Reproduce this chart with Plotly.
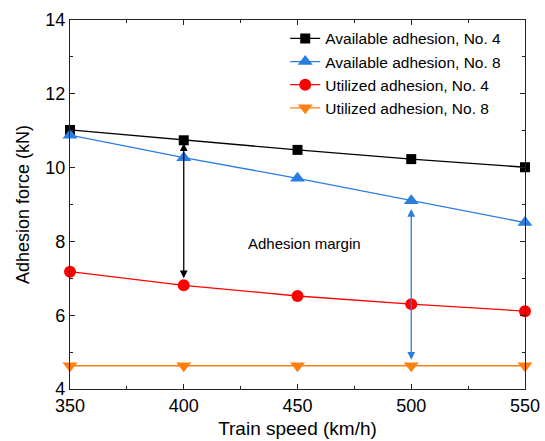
import plotly.graph_objects as go

speed = [350, 400, 450, 500, 550]
avail_no4 = [11.02, 10.74, 10.48, 10.23, 10.01]
avail_no8 = [10.88, 10.27, 9.71, 9.10, 8.51]
util_no4 = [7.18, 6.81, 6.52, 6.30, 6.11]
util_no8 = [4.63, 4.63, 4.63, 4.63, 4.63]

series = [
    ("Available adhesion, No. 4", avail_no4, "#000000", "square", 10),
    ("Available adhesion, No. 8", avail_no8, "#2a7de1", "triangle-up", 13),
    ("Utilized adhesion, No. 4", util_no4, "#ff0000", "circle", 12),
    ("Utilized adhesion, No. 8", util_no8, "#ff8010", "triangle-down", 13),
]

fig = go.Figure()
for name, ys, col, sym, sz in series:
    fig.add_trace(go.Scatter(
        x=speed, y=ys, name=name, mode="lines+markers",
        line=dict(color=col, width=1.3),
        marker=dict(symbol=sym, size=sz, color=col, line=dict(width=0)),
        cliponaxis=False,
    ))

# Adhesion margin arrows
arrows = [
    (speed[1], avail_no4[1] - 0.08, util_no4[1] + 0.15, "#000000"),
    (speed[3], avail_no8[3] - 0.22, util_no8[3] + 0.12, "#2a7de1"),
]
for xv, ytop, ybot, col in arrows:
    fig.add_annotation(
        x=xv, y=ytop, ax=xv, ay=ybot, xref="x", yref="y", axref="x", ayref="y",
        text="", showarrow=True, arrowhead=2, startarrowhead=2, arrowside="end+start",
        arrowsize=1.2, startarrowsize=1.2, arrowwidth=1.3, arrowcolor=col,
    )

fig.add_annotation(x=453, y=7.95, xref="x", yref="y", text="Adhesion margin",
                   showarrow=False, font=dict(size=15, color="#000000"))

axis_common = dict(
    showline=True, linecolor="#222222", linewidth=1.3, mirror="ticks",
    ticks="inside", ticklen=5, tickwidth=1, tickcolor="#222222",
    showgrid=False, zeroline=False, automargin=False,
    tickfont=dict(size=18, color="#000000"),
)

fig.update_xaxes(range=[350, 550], dtick=50, tick0=350,
                 minor=dict(dtick=25, ticks="inside", ticklen=3, tickcolor="#222222"),
                 title=dict(text="Train speed (km/h)", font=dict(size=19, color="#000000"), standoff=6),
                 **axis_common)
fig.update_yaxes(range=[4, 14], dtick=2, tick0=4,
                 minor=dict(dtick=1, ticks="inside", ticklen=3, tickcolor="#222222"),
                 title=dict(text="Adhesion force (kN)", font=dict(size=18, color="#000000"), standoff=10),
                 **axis_common)

fig.update_layout(
    width=545, height=441,
    margin=dict(l=70, r=20, t=20, b=52),
    paper_bgcolor="white", plot_bgcolor="white",
    font=dict(family="Liberation Sans, Arial, sans-serif", color="#000000"),
    legend=dict(x=0.473, y=0.995, xanchor="left", yanchor="top",
                font=dict(size=15.5), bgcolor="rgba(0,0,0,0)", tracegroupgap=0,
                itemsizing="trace"),
)

fig.write_html("out.html")
